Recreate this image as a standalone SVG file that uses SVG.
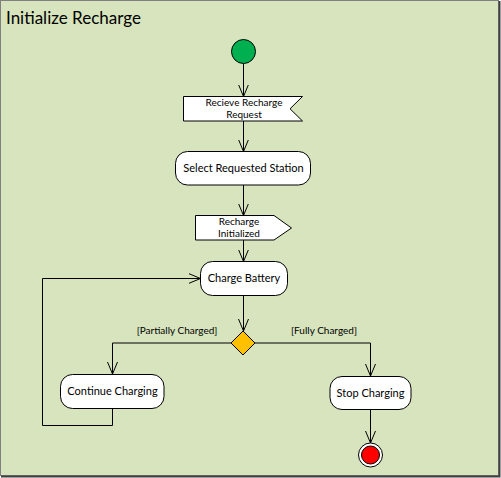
<svg xmlns="http://www.w3.org/2000/svg" width="501" height="478" viewBox="0 0 501 478">
<defs>
<style>
.node{fill:#fff;stroke:#000;stroke-width:1}
.lbl{font-family:Lato,"Liberation Sans",sans-serif;font-size:11px;fill:#000;text-anchor:middle}
.sm{font-size:10px}
.edge{fill:none;stroke:#000;stroke-width:1}
</style>
<marker id="arr" viewBox="0 0 12 12" refX="12" refY="6" markerWidth="12" markerHeight="12" markerUnits="userSpaceOnUse" orient="auto">
<path d="M0,1 L12,6 L0,11" fill="none" stroke="#000" stroke-width="1"/>
</marker>
</defs>
<g id="frame">
<rect x="0.5" y="0.5" width="498" height="475" fill="#d7e4bd" stroke="#808080" stroke-width="1"/>
<path d="M499.5,1 V476.5 H1" fill="none" stroke="#404040" stroke-width="2"/>
<text x="6" y="24" font-family="Lato,'Liberation Sans',sans-serif" font-size="17" fill="#000">Initialize Recharge</text>
</g>
<g id="connectors">
<path class="edge" d="M243.5,63.5 V96.5" marker-end="url(#arr)"/>
<path class="edge" d="M243.5,121 V151.5" marker-end="url(#arr)"/>
<path class="edge" d="M243.5,185 V215.5" marker-end="url(#arr)"/>
<path class="edge" d="M243.5,240 V261.5" marker-end="url(#arr)"/>
<path class="edge" d="M243.5,296 V331" marker-end="url(#arr)"/>
<path class="edge" d="M231,343 H112.5 V374" marker-end="url(#arr)"/>
<path class="edge" d="M255,343 H370.5 V376" marker-end="url(#arr)"/>
<path class="edge" d="M370.5,409.5 V443" marker-end="url(#arr)"/>
<path class="edge" d="M112.5,408.5 V425.5 H42.5 V278.5 H200.5" marker-end="url(#arr)"/>
<text class="lbl sm" x="177" y="334">[Partially Charged]</text>
<text class="lbl sm" x="324" y="334">[Fully Charged]</text>
</g>
<g id="start">
<circle cx="243.5" cy="51.5" r="12" fill="#00b050" stroke="#000" stroke-width="1"/>
</g>
<g id="recieve">
<polygon class="node" points="183.5,96.5 302.5,96.5 290,108.8 302.5,121 183.5,121"/>
<text class="lbl sm" x="244" y="105.5">Recieve Recharge</text>
<text class="lbl sm" x="244" y="117.5">Request</text>
</g>
<g id="select">
<rect class="node" x="175.5" y="151.5" width="135" height="33.5" rx="12"/>
<text class="lbl" x="243.5" y="172">Select Requested Station</text>
</g>
<g id="initialized">
<polygon class="node" points="195.5,215.5 274,215.5 291.5,228 274,240 195.5,240"/>
<text class="lbl sm" x="239" y="225">Recharge</text>
<text class="lbl sm" x="239" y="237">Initialized</text>
</g>
<g id="charge">
<rect class="node" x="200.5" y="261.5" width="87" height="34" rx="12"/>
<text class="lbl" x="244" y="282">Charge Battery</text>
</g>
<g id="decision">
<polygon points="243,331 255,343 243,355 231,343" fill="#ffc000" stroke="#000" stroke-width="1"/>
</g>
<g id="continue">
<rect class="node" x="60.5" y="374.5" width="103.5" height="34" rx="12"/>
<text class="lbl" x="112.5" y="395">Continue Charging</text>
</g>
<g id="stop">
<rect class="node" x="330" y="376.5" width="81" height="33" rx="12"/>
<text class="lbl" x="370.5" y="396.5">Stop Charging</text>
</g>
<g id="end">
<circle cx="370.5" cy="455" r="12" fill="#fff" stroke="#000" stroke-width="1"/>
<circle cx="370.5" cy="455" r="9" fill="#ff0000" stroke="#000" stroke-width="1"/>
</g>
</svg>
